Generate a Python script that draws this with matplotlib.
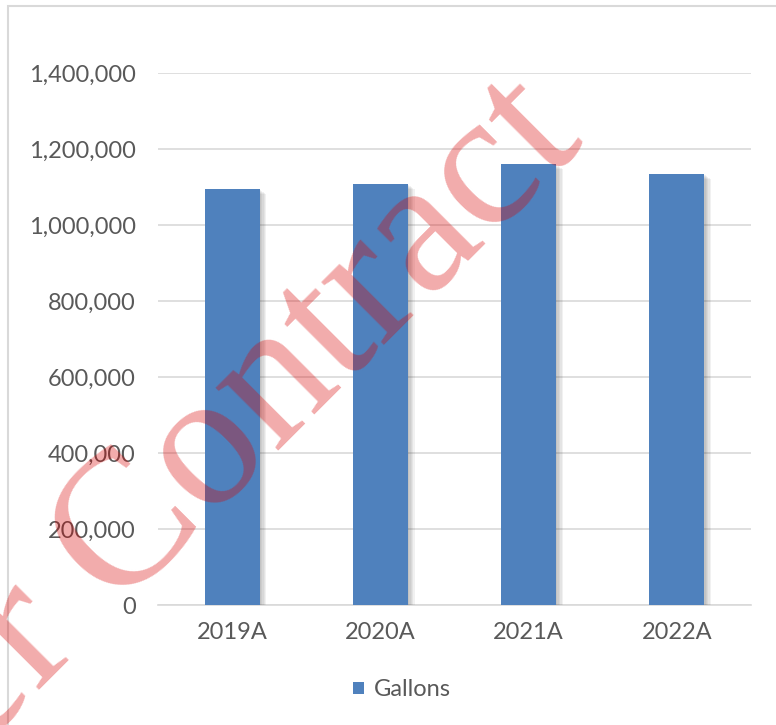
import matplotlib
matplotlib.use("Agg")
import matplotlib.pyplot as plt
import matplotlib.patheffects as pe
from matplotlib.patches import Patch, Rectangle
from matplotlib.ticker import FuncFormatter

years = ["2019A", "2020A", "2021A", "2022A"]
gallons = [1095000, 1109000, 1160000, 1134000]
y_ticks = [0, 200000, 400000, 600000, 800000, 1000000, 1200000, 1400000]
watermark = "Under Contract"

W, H = 776, 725
plt.rcParams['font.family'] = ['Lato', 'DejaVu Sans']

fig = plt.figure(figsize=(W / 100, H / 100), dpi=100)
fig.patch.set_facecolor('white')

# outer chart border (cut off on right and bottom)
fig.add_artist(Rectangle((8 / W, -0.05), 1.05, 1 - 6 / H + 0.05, transform=fig.transFigure,
                         fill=False, edgecolor='#D9D9D9', linewidth=1.5))

ax = fig.add_axes([158 / W, 1 - 605 / H, 593 / W, (605 - 73.3) / H])
ax.set_facecolor('none')

shadows = [pe.SimplePatchShadow(offset=(k, -0.7 * k), shadow_rgbFace='#404040', alpha=0.07)
           for k in (1, 2, 3, 4, 5)]
bars = ax.bar(range(len(years)), gallons, width=0.37, color='#4F81BD', zorder=3)
for b in bars:
    b.set_path_effects(shadows + [pe.Normal()])

ax.set_xlim(-0.5, len(years) - 0.5)
ax.set_ylim(0, 1400000)
ax.set_yticks(y_ticks)
ax.yaxis.set_major_formatter(FuncFormatter(lambda v, p: f"{int(v):,}"))
ax.set_xticks(range(len(years)))
ax.set_xticklabels(years)

ax.grid(axis='y', color='#D9D9D9', linewidth=1.2, zorder=0)
ax.set_axisbelow(True)
for s in ['top', 'right', 'left']:
    ax.spines[s].set_visible(False)
ax.spines['bottom'].set_color('#D9D9D9')
ax.spines['bottom'].set_linewidth(1.2)
ax.tick_params(axis='both', length=0, labelsize=17, labelcolor='#595959')
ax.tick_params(axis='y', pad=16)
ax.tick_params(axis='x', pad=12)

fig.legend(handles=[Patch(facecolor='#4F81BD', label='Gallons')], loc='center',
           bbox_to_anchor=(402 / W, 1 - 690 / H), frameon=False, fontsize=17,
           labelcolor='#595959', handlelength=0.45, handleheight=0.45, handletextpad=0.4)

# watermark
fig.text(586 / W, 1 - 143 / H, watermark, family=['Liberation Serif', 'DejaVu Serif'],
         fontsize=139, color=(0.85, 0, 0, 0.33), rotation=45, rotation_mode='anchor',
         ha='right', va='baseline', zorder=10)

fig.savefig("out.png", dpi=100)
